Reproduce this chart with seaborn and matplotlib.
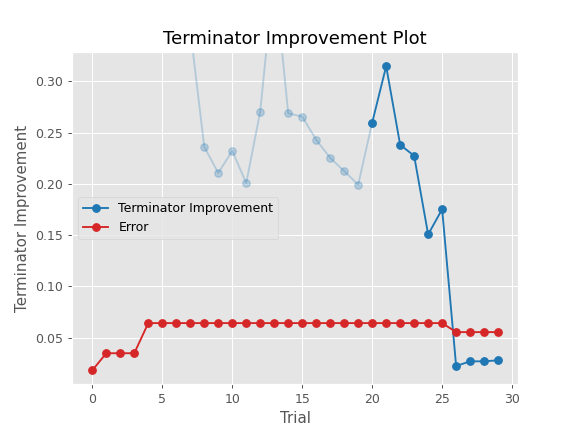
import matplotlib
matplotlib.use("Agg")
import matplotlib.pyplot as plt
import seaborn as sns
import pandas as pd

trials = list(range(30))
improvement = [0.62, 0.55, 0.48, 0.52, 0.45, 0.41, 0.39, 0.351,
               0.2361, 0.2106, 0.2322, 0.2007, 0.2705, 0.407, 0.2688, 0.2656,
               0.2430, 0.2253, 0.2125, 0.1991, 0.2597, 0.3147, 0.2381, 0.2273,
               0.1506, 0.1752, 0.0222, 0.0268, 0.0268, 0.0278]
error = [0.0180, 0.0347, 0.0347, 0.0347] + [0.0641] * 22 + [0.0553] * 4
min_n_trials = 20

plt.style.use("ggplot")
blue = "#1f77b4"
red = "#d62728"

df = pd.DataFrame({"Trial": trials, "imp": improvement, "err": error})
fig, ax = plt.subplots(figsize=(6.4, 4.8), dpi=90)
ax.set_title("Terminator Improvement Plot")

early = df[df["Trial"] <= min_n_trials]
late = df[df["Trial"] >= min_n_trials]
sns.lineplot(data=early, x="Trial", y="imp", ax=ax, color=blue, marker="o",
             alpha=0.25, markeredgecolor=blue, markeredgewidth=1,
             markersize=6, linewidth=1.5)
sns.lineplot(data=late, x="Trial", y="imp", ax=ax, color=blue, marker="o",
             markeredgecolor=blue, markeredgewidth=1, markersize=6,
             linewidth=1.5, label="Terminator Improvement")
sns.lineplot(data=df, x="Trial", y="err", ax=ax, color=red, marker="o",
             markeredgecolor=red, markeredgewidth=1, markersize=6,
             linewidth=1.5, label="Error")

ax.set_xlim(-1.45, 30.45)
ax.set_ylim(0.0042, 0.3288)
ax.set_xlabel("Trial")
ax.set_ylabel("Terminator Improvement")
ax.legend(loc="center left")
fig.savefig("out.png", dpi=90)
